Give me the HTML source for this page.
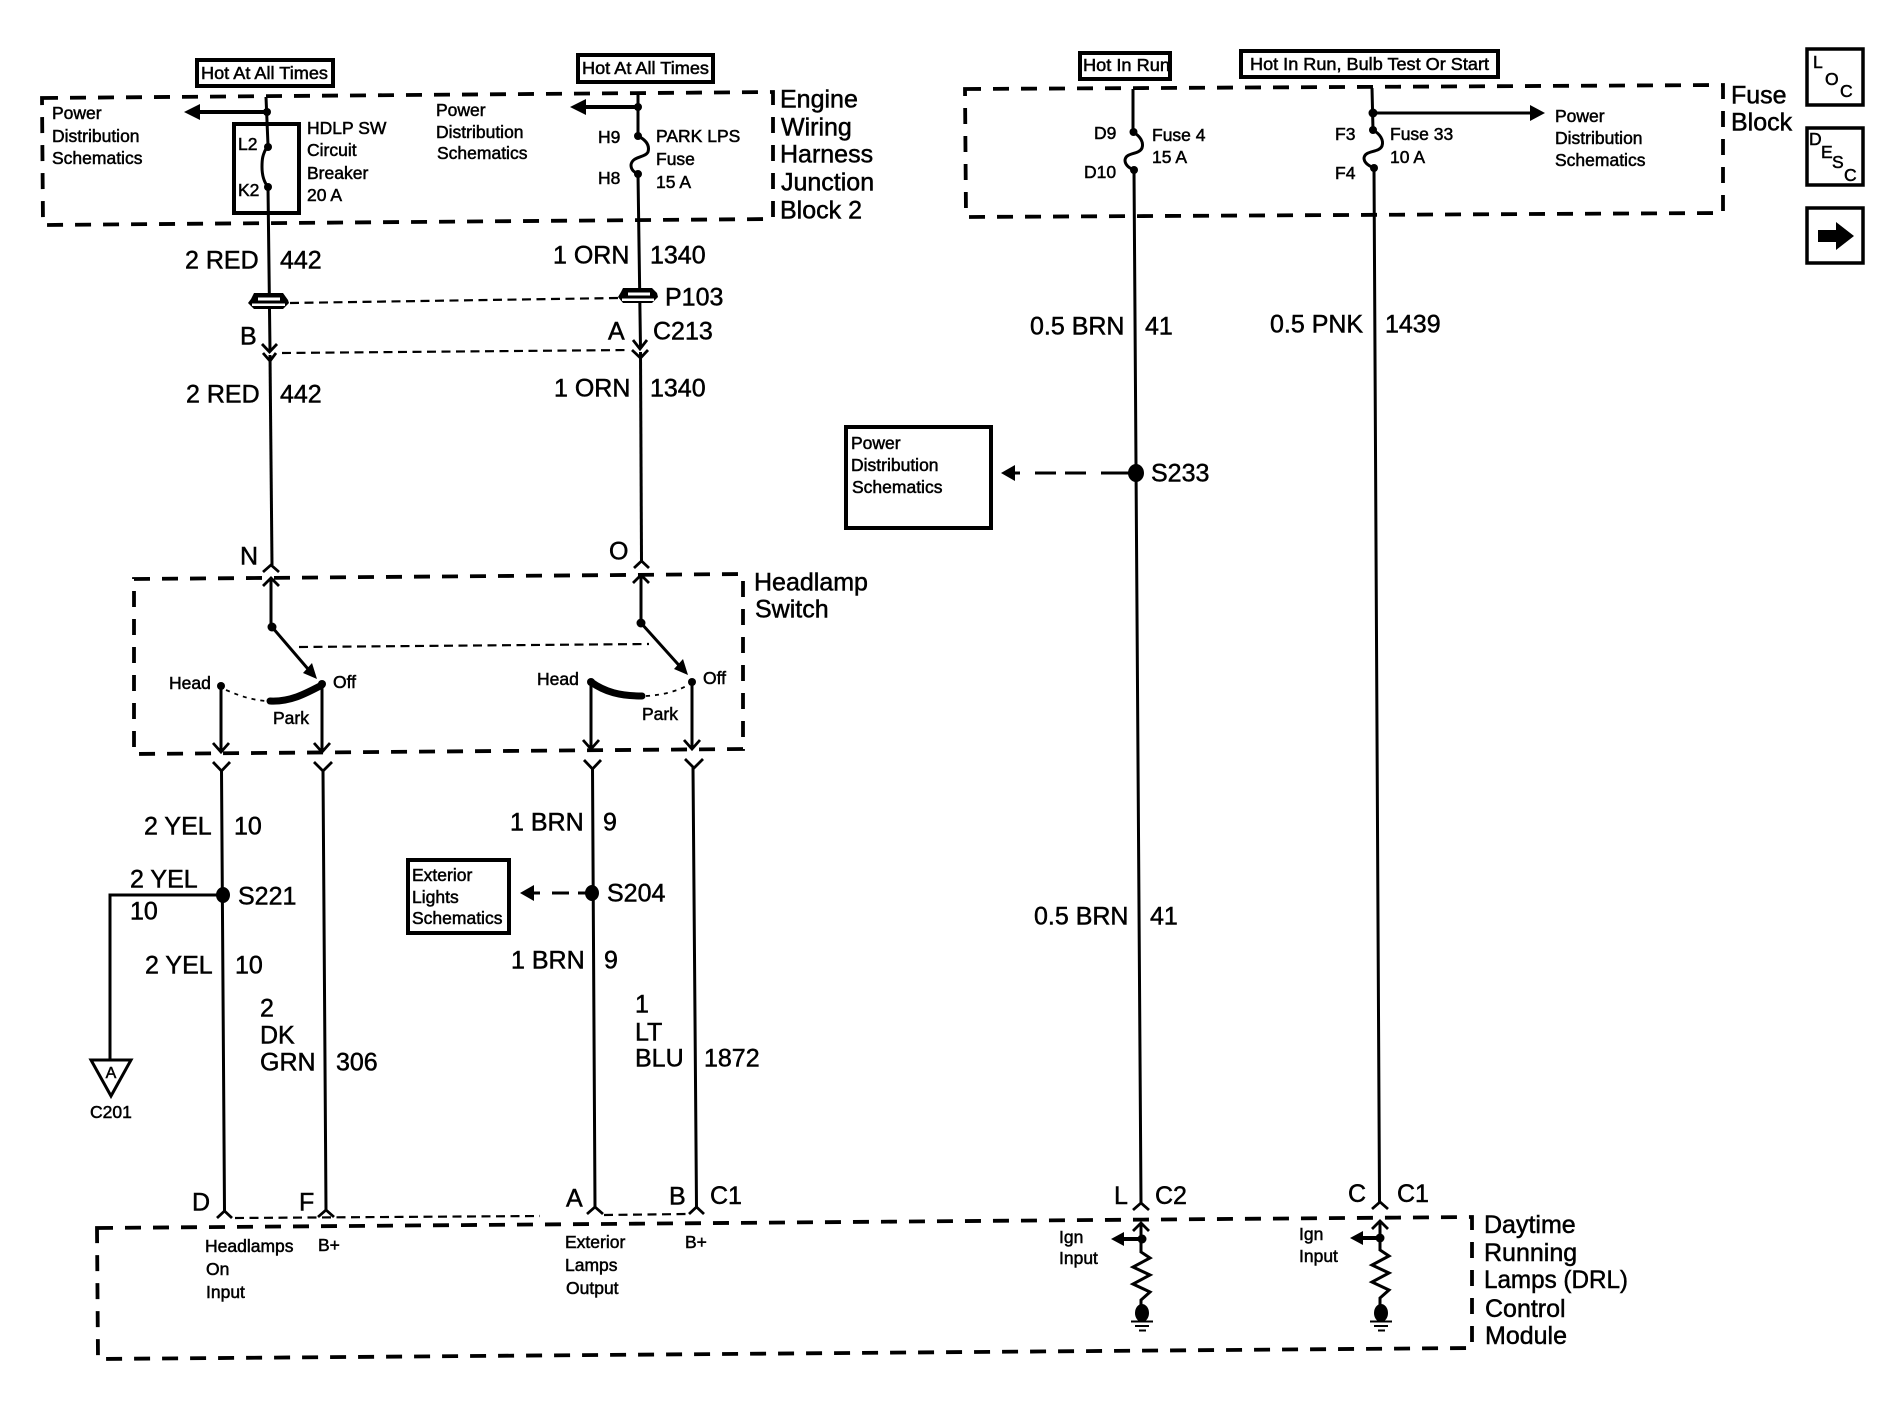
<!DOCTYPE html>
<html><head><meta charset="utf-8"><title>DRL wiring diagram</title>
<style>
html,body{margin:0;padding:0;background:#fff}
svg{display:block}
text{font-family:"Liberation Sans",sans-serif;fill:#000;stroke:#000;stroke-width:.5px}
.s{font-size:17.5px}
.m{font-size:17.5px}
.l{font-size:25px;transform:translateY(-1.5px)}
.n{transform:none}
.w{fill:none;stroke:#000;stroke-width:3}
.d{fill:none;stroke:#000;stroke-width:3.800;stroke-dasharray:16 12}
.t{fill:none;stroke:#000;stroke-width:2.2;stroke-dasharray:9 5.500}
.o{fill:none;stroke:#000;stroke-width:1.8;stroke-dasharray:4 5}
.b{fill:#fff;stroke:#000;stroke-width:4}
.c{fill:none;stroke:#000;stroke-width:2.8}
.k{fill:#000;stroke:none}
</style></head><body>
<svg xmlns="http://www.w3.org/2000/svg" width="1898" height="1408" viewBox="0 0 1898 1408">
<rect width="1898" height="1408" fill="#fff"/>

<!-- dashed boxes -->
<path class="d" d="M42 98 L773 92 L773 219 L43 225 Z"/>
<path class="d" d="M965 89 L1723 85 L1723 213 L966 217 Z"/>
<path class="d" d="M134 579 L743 574 L743 749 L134 754 Z"/>
<path class="d" d="M97 1228 L1472 1217 L1472 1348 L98 1359 Z"/>

<!-- Hot boxes -->
<rect class="b" x="197" y="60" width="136" height="26"/>
<text class="s" x="201" y="79" textLength="127" lengthAdjust="spacingAndGlyphs">Hot At All Times</text>
<rect class="b" x="578" y="55" width="135" height="27"/>
<text class="s" x="582" y="74" textLength="127" lengthAdjust="spacingAndGlyphs">Hot At All Times</text>
<rect class="b" x="1080" y="53" width="90" height="26"/>
<text class="s" x="1083" y="71" textLength="87" lengthAdjust="spacingAndGlyphs">Hot In Run</text>
<rect class="b" x="1241" y="51" width="257" height="26"/>
<text class="s" x="1250" y="70" textLength="239" lengthAdjust="spacingAndGlyphs">Hot In Run, Bulb Test Or Start</text>

<!-- Wires top left -->
<path class="w" d="M266 97 L268 145 M268 187 L270 350"/>
<path class="w" d="M270 355 L272 565"/>
<path class="w" d="M638 92 L638 136 M638 174 L640.5 348"/>
<path class="w" d="M640.5 352 L641.5 561"/>
<path class="w" d="M268 145 C262 155 262 160 262 167 C262 175 264 182 268 187"/>
<path class="w" d="M638 136 C646 140 650 145 648 152 C645 158 632 156 631 165 C631 170 634 172 638 174"/>
<circle class="k" cx="267" cy="112" r="4"/>
<circle class="k" cx="268" cy="147" r="4"/>
<circle class="k" cx="268" cy="187" r="4"/>
<circle class="k" cx="638" cy="107" r="4"/>
<circle class="k" cx="638" cy="136" r="4"/>
<circle class="k" cx="638" cy="174" r="4"/>
<path class="w" style="stroke-width:4" d="M195 112 H267 M580 107 H638"/>
<path class="k" d="M184 112 L200 104 V120 Z M570 107 L586 99 V115 Z"/>
<rect x="234" y="124" width="65" height="89" fill="none" stroke="#000" stroke-width="4"/>
<text class="s" x="238" y="150">L2</text>
<text class="s" x="238" y="196">K2</text>

<text class="s" x="52" y="119">Power</text>
<text class="s" x="52" y="142">Distribution</text>
<text class="s" x="52" y="164">Schematics</text>
<text class="s" x="307" y="134">HDLP SW</text>
<text class="s" x="307" y="156">Circuit</text>
<text class="s" x="307" y="179">Breaker</text>
<text class="s" x="307" y="201">20 A</text>
<text class="s" x="436" y="116">Power</text>
<text class="s" x="436" y="138">Distribution</text>
<text class="s" x="437" y="159">Schematics</text>
<text class="m" x="598" y="143">H9</text>
<text class="m" x="598" y="184">H8</text>
<text class="s" x="656" y="142">PARK LPS</text>
<text class="s" x="656" y="165">Fuse</text>
<text class="s" x="656" y="188">15 A</text>

<text class="l" x="780" y="109">Engine</text>
<text class="l" x="781" y="137">Wiring</text>
<text class="l" x="780" y="164">Harness</text>
<text class="l" x="781" y="192">Junction</text>
<text class="l" x="780" y="220">Block 2</text>

<text class="l" x="185" y="270">2 RED</text>
<text class="l" x="280" y="270">442</text>
<text class="l" x="553" y="265">1 ORN</text>
<text class="l" x="650" y="265">1340</text>

<!-- P103 -->
<path class="k" d="M254 293 H283 L288 300 L289 303 L283 309 H254 L248 303 L251 299 Z"/>
<path d="M258 297.500 H280 V300.500 H258 Z M252 303.500 H285 V306 H252 Z" fill="#fff"/>
<path class="k" d="M623 288 H652 L657 293 L658 297 L652 303 H623 L618 297 L621 292 Z"/>
<path d="M628 292.500 H650 V295.500 H628 Z M622 298.500 H654 V301 H622 Z" fill="#fff"/>
<path class="t" d="M290 303 L618 298"/>
<text class="l" x="665" y="307">P103</text>
<text class="l" x="240" y="346">B</text>
<text class="l" x="608" y="341">A</text>
<text class="l" x="653" y="341">C213</text>
<path class="c" d="M262 344 L269.500 352 L277 344 M263 353 L270 361 L276 353"/>
<path class="c" d="M633 340 L640 349 L647 340 M632 350 L640.500 358 L648 350"/>
<path class="t" d="M282 353 L630 350"/>
<text class="l" x="186" y="404">2 RED</text>
<text class="l" x="280" y="404">442</text>
<text class="l" x="554" y="398">1 ORN</text>
<text class="l" x="650" y="398">1340</text>

<text class="l" x="240" y="566">N</text>
<text class="l" x="609" y="561">O</text>
<path class="c" d="M263 572 L271 565 L279 572 M634 568 L641.500 561 L649 568"/>

<!-- Switch -->
<text class="l" x="754" y="592">Headlamp</text>
<text class="l" x="755" y="619">Switch</text>
<path class="w" d="M271 578 V627 M641 575 V623"/>
<path class="c" d="M263 586 L271 578 L279 586 M633 583 L641 575 L649 583"/>
<circle class="k" cx="272" cy="627" r="4.500"/>
<circle class="k" cx="641" cy="623" r="4.500"/>
<path class="w" d="M272 627 L314 676 M641 623 L685 672"/>
<path class="k" d="M317 679 L303 673 L312 663 Z M688 675 L674 669 L683 659 Z"/>
<path class="t" d="M299 647 L649 644"/>
<circle class="k" cx="221" cy="686" r="4"/>
<circle class="k" cx="322" cy="684" r="4"/>
<circle class="k" cx="591" cy="682" r="4"/>
<circle class="k" cx="692" cy="682" r="4"/>
<path d="M270 701 C290 702 305 694 322 685" fill="none" stroke="#000" stroke-width="7" stroke-linecap="round"/>
<path d="M591 682 C605 692 620 696 642 696" fill="none" stroke="#000" stroke-width="7" stroke-linecap="round"/>
<path class="o" d="M226 690 C240 696 252 700 266 701"/>
<path class="o" d="M646 696 C665 695 680 690 690 684"/>
<text class="m" x="169" y="689">Head</text>
<text class="m" x="333" y="688">Off</text>
<text class="m" x="273" y="724">Park</text>
<text class="m" x="537" y="685">Head</text>
<text class="m" x="703" y="684">Off</text>
<text class="m" x="642" y="720">Park</text>
<path class="w" d="M221 686 V752 M322 684 V752 M591 682 V749 M692 682 V749"/>
<path class="c" d="M213 743 L221 752 L229 743 M314 743 L322 752 L330 743 M583 740 L591 749 L599 740 M684 740 L692 749 L700 740"/>
<path class="c" d="M213 762 L221.500 771 L230 762 M314 762 L323 771 L332 762 M584 760 L592.500 769 L601 760 M685 759 L694 768 L703 759"/>

<!-- Lower wires -->
<path class="w" d="M221.500 770 L224.500 1211 M323 770 L326 1210 M592.500 768 L595 1207 M693 767 L696.500 1207"/>
<path class="c" d="M217 1218 L224.500 1211 L232 1218 M318 1217 L326 1210 L334 1217 M587 1214 L595 1207 L603 1214 M689 1214 L696.500 1207 L704 1214"/>
<path class="t" d="M235 1218 L540 1216 M604 1215 L688 1214"/>

<text class="l" x="144" y="836">2 YEL</text>
<text class="l" x="234" y="836">10</text>
<text class="l" x="130" y="889">2 YEL</text>
<text class="l" x="130" y="921">10</text>
<text class="l" x="145" y="975">2 YEL</text>
<text class="l" x="235" y="975">10</text>
<text class="l" x="238" y="906">S221</text>
<path class="w" d="M223 895 H110 V1059"/>
<ellipse class="k" cx="223" cy="895" rx="7" ry="8"/>
<path d="M91 1060 H131 L111 1096 Z" fill="#fff" stroke="#000" stroke-width="3"/>
<text class="m" x="111" y="1078" text-anchor="middle" style="font-size:16px">A</text>
<text class="s" x="90" y="1118">C201</text>

<text class="l" x="260" y="1018">2</text>
<text class="l" x="260" y="1045">DK</text>
<text class="l" x="260" y="1072">GRN</text>
<text class="l" x="336" y="1072">306</text>
<text class="l" x="635" y="1014">1</text>
<text class="l" x="635" y="1042">LT</text>
<text class="l" x="635" y="1068">BLU</text>
<text class="l" x="704" y="1068">1872</text>

<text class="l" x="510" y="832">1 BRN</text>
<text class="l" x="603" y="832">9</text>
<text class="l" x="511" y="970">1 BRN</text>
<text class="l" x="604" y="970">9</text>
<rect class="b" x="408" y="860" width="101" height="73"/>
<text class="s" x="412" y="881">Exterior</text>
<text class="s" x="412" y="903">Lights</text>
<text class="s" x="412" y="924">Schematics</text>
<path class="k" d="M520 893 L534 885 V901 Z"/>
<path d="M534 893 H540 M552 893 H569 M578 893 H592" stroke="#000" stroke-width="3"/>
<ellipse class="k" cx="592" cy="893" rx="7" ry="8"/>
<text class="l" x="607" y="903">S204</text>

<text class="l" x="192" y="1212">D</text>
<text class="l" x="299" y="1212">F</text>
<text class="l" x="566" y="1208">A</text>
<text class="l" x="669" y="1206">B</text>
<text class="l n" x="710" y="1204">C1</text>
<text class="s" x="205" y="1252">Headlamps</text>
<text class="s" x="206" y="1275">On</text>
<text class="s" x="206" y="1298">Input</text>
<text class="s" x="318" y="1251">B+</text>
<text class="s" x="565" y="1248">Exterior</text>
<text class="s" x="565" y="1271">Lamps</text>
<text class="s" x="566" y="1294">Output</text>
<text class="s" x="685" y="1248">B+</text>

<!-- Right wires -->
<path class="w" d="M1133 89 V132 M1134 170 L1141 1203"/>
<path class="w" d="M1372 88 L1373 130 M1374 168 L1379.500 1202"/>
<path class="w" d="M1133 132 C1140 136 1144 142 1142 148 C1139 155 1126 152 1125 160 C1125 165 1129 168 1134 170"/>
<path class="w" d="M1373 130 C1380 134 1384 140 1382 146 C1379 153 1365 150 1364 158 C1364 163 1369 166 1374 168"/>
<circle class="k" cx="1133.500" cy="132" r="4"/>
<circle class="k" cx="1134" cy="170" r="4"/>
<circle class="k" cx="1373" cy="113" r="4.500"/>
<circle class="k" cx="1373" cy="130" r="4"/>
<circle class="k" cx="1374" cy="168" r="4"/>
<path class="w" d="M1373 113 H1532"/>
<path class="k" d="M1545 113 L1530 105 V121 Z"/>

<text class="m" x="1094" y="139">D9</text>
<text class="m" x="1084" y="178">D10</text>
<text class="s" x="1152" y="141">Fuse 4</text>
<text class="s" x="1152" y="163">15 A</text>
<text class="m" x="1335" y="140">F3</text>
<text class="m" x="1335" y="179">F4</text>
<text class="s" x="1390" y="140">Fuse 33</text>
<text class="s" x="1390" y="163">10 A</text>
<text class="s" x="1555" y="122">Power</text>
<text class="s" x="1555" y="144">Distribution</text>
<text class="s" x="1555" y="166">Schematics</text>
<text class="l" x="1731" y="105">Fuse</text>
<text class="l" x="1731" y="132">Block</text>

<rect x="1807" y="49" width="56" height="56" fill="none" stroke="#000" stroke-width="3.500"/>
<text class="s" x="1813" y="68">L</text>
<text class="s" x="1825" y="85">O</text>
<text class="s" x="1840" y="97">C</text>
<rect x="1807" y="128" width="56" height="57" fill="none" stroke="#000" stroke-width="3.500"/>
<text class="s" x="1809" y="145">D</text>
<text class="s" x="1821" y="158">E</text>
<text class="s" x="1832" y="168">S</text>
<text class="s" x="1844" y="181">C</text>
<rect x="1807" y="208" width="56" height="55" fill="none" stroke="#000" stroke-width="3.500"/>
<path class="k" d="M1818 230 H1836 V222 L1854 236 L1836 250 V242 H1818 Z"/>

<text class="l" x="1030" y="336">0.5 BRN</text>
<text class="l" x="1145" y="336">41</text>
<text class="l" x="1270" y="334">0.5 PNK</text>
<text class="l" x="1385" y="334">1439</text>
<text class="l" x="1034" y="926">0.5 BRN</text>
<text class="l" x="1150" y="926">41</text>
<rect class="b" x="846" y="427" width="145" height="101"/>
<text class="s" x="851" y="449">Power</text>
<text class="s" x="851" y="471">Distribution</text>
<text class="s" x="852" y="493">Schematics</text>
<path class="k" d="M1001 473 L1015 465 V481 Z"/>
<path d="M1015 473 H1020 M1035 473 H1056 M1065 473 H1086 M1101 473 H1130" stroke="#000" stroke-width="3"/>
<ellipse class="k" cx="1136" cy="473" rx="8" ry="9"/>
<text class="l" x="1151" y="483">S233</text>

<text class="l n" x="1114" y="1204">L</text>
<text class="l n" x="1155" y="1204">C2</text>
<text class="l n" x="1348" y="1202">C</text>
<text class="l n" x="1397" y="1202">C1</text>
<path class="c" d="M1133 1210 L1141 1203 L1149 1210 M1372 1209 L1380 1202 L1388 1209"/>

<!-- DRL internals -->
<path class="c" d="M1133 1231 L1141 1223 L1149 1231 M1372 1229 L1380 1221 L1388 1229"/>
<path class="w" d="M1141 1223 V1252 L1150 1258 L1133 1267 L1150 1275 L1133 1284 L1150 1292 L1141 1300 V1306"/>
<path class="w" d="M1380 1221 V1250 L1389 1256 L1372 1265 L1389 1273 L1372 1282 L1389 1290 L1380 1298 V1306"/>
<circle class="k" cx="1142" cy="1239" r="4.500"/>
<circle class="k" cx="1380" cy="1238" r="4.500"/>
<path class="w" style="stroke-width:4" d="M1120 1239 H1142 M1360 1238 H1380"/>
<path class="k" d="M1111 1239 L1124 1232 V1246 Z M1350 1238 L1363 1231 V1245 Z"/>
<ellipse class="k" cx="1142" cy="1313" rx="7" ry="9"/>
<ellipse class="k" cx="1381" cy="1313" rx="7" ry="9"/>
<path d="M1131 1321.500 H1153 M1135 1326 H1149 M1139 1330.500 H1146 M1370 1321.500 H1392 M1374 1326 H1388 M1378 1330.500 H1385" stroke="#000" stroke-width="2"/>
<text class="s" x="1059" y="1243">Ign</text>
<text class="s" x="1059" y="1264">Input</text>
<text class="s" x="1299" y="1240">Ign</text>
<text class="s" x="1299" y="1262">Input</text>
<text class="l n" x="1484" y="1233">Daytime</text>
<text class="l n" x="1484" y="1261">Running</text>
<text class="l n" x="1484" y="1288" textLength="144" lengthAdjust="spacingAndGlyphs">Lamps (DRL)</text>
<text class="l n" x="1485" y="1317">Control</text>
<text class="l n" x="1485" y="1344">Module</text>
</svg>
</body></html>
